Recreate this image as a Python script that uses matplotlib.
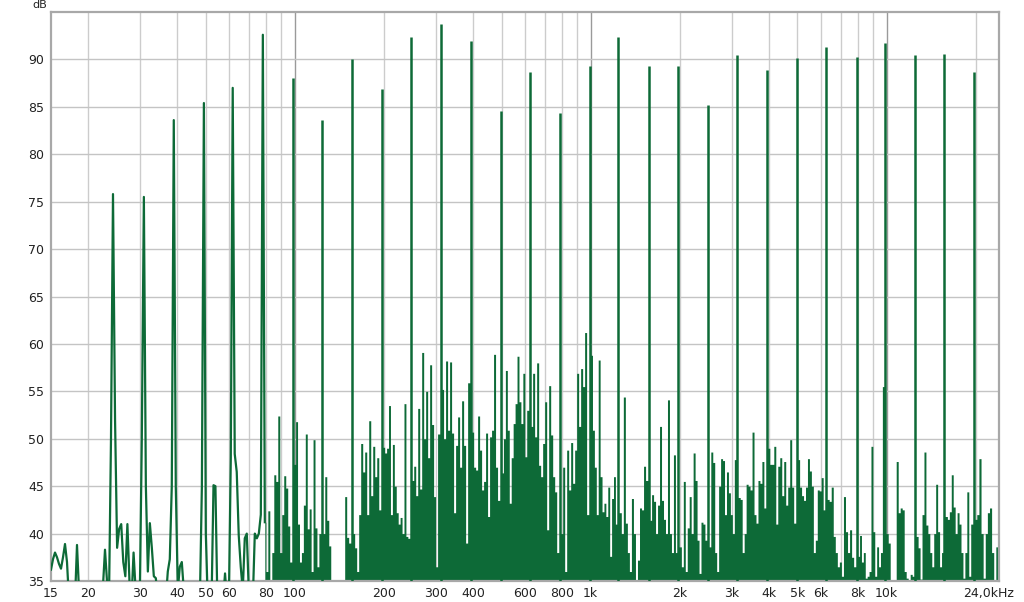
import numpy as np
import matplotlib
matplotlib.use("Agg")
import matplotlib.pyplot as plt
from matplotlib.ticker import NullLocator
from matplotlib.transforms import ScaledTranslation

# ---------------- data ----------------
tones_hz = [24.3, 30.9, 39.0, 49.3, 61.7, 78.0, 98.4, 123.4, 155.7, 196.8,
            246.6, 311.0, 393.0, 496.0, 622.0, 786.0, 992.0, 1240.0, 1570.0, 1980.0,
            2490.0, 3130.0, 3940.0, 4970.0, 6250.0, 7930.0, 9900.0, 12500.0, 15700.0, 19700.0]
tones_db = [75.8, 75.5, 83.6, 85.4, 87.0, 92.6, 88.0, 83.6, 90.0, 86.9,
            92.4, 93.7, 91.9, 84.6, 88.7, 84.4, 89.3, 92.4, 89.3, 89.3,
            85.2, 90.5, 88.9, 90.1, 91.3, 90.3, 91.7, 90.5, 90.6, 88.7]

# noise floor between the tones (dB), one list per band, low to high frequency
noise_00 = [36.2, 37.3, 38.0, 37.5, 36.8, 36.3, 37.5, 38.9, 37.0, 33, 33, 33, 33, 38.8, 34,
            33, 33, 33, 33, 33, 33, 33, 33, 33, 33, 33, 34.5, 38.3, 35, 33, 50]
noise_01 = [52, 38.5, 40.5, 41.0, 37, 35.5, 41.0, 35, 33, 38.0, 34, 33, 33, 50]
noise_02 = [45, 36, 41.1, 38.5, 35.5, 35.3, 33, 33, 33, 33, 33, 36, 37.3, 45]
noise_03 = [45, 34, 36.5, 37.0, 34, 33, 33, 33, 33, 33, 33, 33, 33, 45]
noise_04 = [40, 33, 33, 33, 45.1, 45.0, 33, 33, 33, 33, 35.8, 33, 33, 48]
noise_05 = [48.4, 46.5, 39.8, 36.5, 34, 39.5, 40.0, 34, 33, 33, 40.0, 39.5, 40.0, 42]
noise_06 = [41.2, 36, 42.4, 35, 38, 46.2, 45.5, 52.4, 38, 42, 46.1, 44.8, 40.8, 37]
noise_07 = [47.3, 51.8, 41, 37, 38, 43, 50.5, 40.5, 42.6, 36, 49.9, 40.6, 36.5, 40]
noise_08 = [40, 46.0, 41.4, 38.7, 33, 33, 33, 33, 33, 33, 33, 43.9, 39.6, 39.0]
noise_09 = [40, 38.5, 36, 42, 49.5, 46.5, 48.6, 42, 51.9, 44, 49.2, 46, 48.0, 42.5]
noise_10 = [49.1, 48.5, 49.0, 53.5, 42, 49.4, 45, 42.2, 41.0, 41.7, 40, 53.7, 39.7, 39.5]
noise_11 = [45.6, 47.1, 44, 53.2, 44.7, 59.1, 50, 55.0, 48, 57.8, 51.5, 43.9, 36.5, 50.5]
noise_12 = [55.2, 50, 58.2, 50.9, 58.1, 50.6, 42.2, 49.3, 52.3, 47, 54.0, 49.3, 39, 55.9]
noise_13 = [50.7, 47, 46.7, 52.4, 48.8, 44.6, 45.5, 50.6, 41.8, 50.2, 50.9, 58.9, 47, 43.5]
noise_14 = [46.4, 50, 57.2, 50.9, 43.2, 48, 51.6, 53.7, 58.7, 53.9, 51.6, 56.9, 48.1, 53]
noise_15 = [51.3, 56.9, 50.2, 58.0, 47.2, 46.0, 49.5, 53.9, 40.4, 55.6, 50.4, 46.0, 44.4, 38.0]
noise_16 = [40, 47.0, 36, 48.8, 44.6, 49.6, 45.3, 48.8, 56.9, 51.3, 57.4, 55.5, 61.2, 42]
noise_17 = [58.8, 50.9, 47, 42, 58.3, 46, 42.3, 43.2, 41.8, 44.9, 37.6, 43.7, 46.0, 41]
noise_18 = [42.2, 40, 54.4, 41.1, 38, 36, 43.7, 40, 35, 37.2, 42.7, 42.5, 47.1, 45.6]
noise_19 = [41.4, 44.1, 43.4, 40, 43, 51.3, 43.5, 41.5, 40, 54.1, 40, 38, 48.3, 38]
noise_20 = [38.6, 36.5, 45.5, 36, 40.6, 43.9, 40, 48.5, 45.6, 39.3, 35.8, 41.2, 41, 39.3]
noise_21 = [38.6, 48.6, 47.5, 38, 36, 45, 47.9, 47.7, 42, 46.5, 44.3, 42, 40, 47.8]
noise_22 = [43.8, 43.6, 38, 40, 45.2, 45.0, 44.6, 50.7, 42, 41.1, 45.6, 45.3, 47.6, 42.7]
noise_23 = [49.0, 47.3, 47.3, 49.2, 41, 47.1, 48, 44, 47.6, 43, 44.9, 49.9, 44.9, 41.1]
noise_24 = [47.8, 44.9, 44.0, 43.5, 44.9, 47.9, 46.6, 45.0, 38, 39.3, 44.6, 44.5, 45.9, 42.5]
noise_25 = [43.6, 43.4, 44.9, 39.7, 38, 36.5, 37, 35.5, 43.9, 40.2, 38, 40.4, 37.5, 36.5]
noise_26 = [37.6, 39.8, 37, 38, 35.3, 35.5, 36, 49.2, 40.2, 35.5, 38.6, 36.5, 38, 55.5]
noise_27 = [40.0, 39, 35, 33, 33, 47.6, 42.2, 42.7, 42.5, 36, 35.3, 34.5, 35.7, 35.5]
noise_28 = [39.7, 38.5, 35.2, 42, 48.6, 40.9, 40, 38, 36.5, 40, 45.2, 40.2, 36.5, 38]
noise_29 = [41.8, 41.5, 42.3, 46.2, 42.8, 40, 42.2, 41, 38, 35.3, 38, 44.4, 35.5, 41]
noise_30 = [41.5, 42.0, 47.9, 40, 35.3, 40, 42.2, 42.7, 38, 35, 38.6, 40.8]

noise_bands = [noise_00, noise_01, noise_02, noise_03, noise_04, noise_05, noise_06,
               noise_07, noise_08, noise_09, noise_10, noise_11, noise_12, noise_13,
               noise_14, noise_15, noise_16, noise_17, noise_18, noise_19, noise_20,
               noise_21, noise_22, noise_23, noise_24, noise_25, noise_26, noise_27,
               noise_28, noise_29, noise_30]

F_MIN, F_MAX = 15.0, 24000.0
x_ticks = [15, 20, 30, 40, 50, 60, 80, 100, 200, 300, 400, 600, 800, 1000,
           2000, 3000, 4000, 5000, 6000, 8000, 10000, 24000]
x_tick_labels = ["15", "20", "30", "40", "50", "60", "80", "100", "200", "300", "400",
                 "600", "800", "1k", "2k", "3k", "4k", "5k", "6k", "8k", "10k", "24,0kHz"]
y_ticks = [35, 40, 45, 50, 55, 60, 65, 70, 75, 80, 85, 90]
grid_hz = [20, 30, 40, 50, 60, 70, 80, 90, 100, 200, 300, 400, 500, 600, 700, 800, 900,
           1000, 2000, 3000, 4000, 5000, 6000, 7000, 8000, 9000, 10000, 20000]
decade_hz = [100, 1000, 10000]
DENSE_FROM_HZ = 79.0   # above this the trace is so dense that it renders as a filled area

# ---------------- build the sampled spectrum ----------------
edges = [F_MIN] + tones_hz + [F_MAX]
nf, nd = [], []
last = len(noise_bands) - 1
for k, band in enumerate(noise_bands):
    n = len(band)
    lo, hi = edges[k], edges[k + 1]
    if k == 0:
        pos = np.geomspace(lo, hi, n + 1)[:-1]
    elif k == last:
        pos = np.geomspace(lo, hi, n + 1)[1:]
    else:
        pos = np.geomspace(lo, hi, n + 2)[1:-1]
    nf.extend(pos)
    nd.extend(band)
nf = np.array(nf)
nd = np.array(nd)
tf = np.array(tones_hz)
td = np.array(tones_db)

# low band: a plain line through noise + tones (up to the first dense sample)
first_dense = nf[nf >= DENSE_FROM_HZ][0]
low_f = np.concatenate([nf[nf <= first_dense], tf[tf < DENSE_FROM_HZ]])
low_d = np.concatenate([nd[nf <= first_dense], td[tf < DENSE_FROM_HZ]])
o = np.argsort(low_f)
low_f, low_d = low_f[o], low_d[o]

hi_mask = nf >= DENSE_FROM_HZ
hi_f, hi_d = nf[hi_mask], nd[hi_mask]
ht_mask = tf >= DENSE_FROM_HZ

# ---------------- draw ----------------
GREEN = "#0d6a37"
W, H = 1024, 602
fig = plt.figure(figsize=(W / 100, H / 100), dpi=100)
ax = fig.add_axes([51 / W, 1 - 581 / H, (999 - 51) / W, (581 - 12) / H])
ax.set_xscale("log")
ax.set_xlim(F_MIN, F_MAX)
ax.set_ylim(35, 95)

for g in grid_hz:
    ax.axvline(g, color="#9a9a9a" if g in decade_hz else "#cccccc", lw=1.0, zorder=0)
for yv in y_ticks[1:]:
    ax.axhline(yv, color="#c4c4c4", lw=1.0, zorder=0)

ax.plot(low_f, low_d, color=GREEN, lw=1.6, zorder=3, solid_joinstyle="round")
ax.fill_between(hi_f, 30, hi_d, step="mid", color=GREEN, lw=0, zorder=2)
ax.vlines(tf[ht_mask], 30, td[ht_mask], color=GREEN, lw=1.8, zorder=3)

ax.set_xticks(x_ticks)
ax.set_xticklabels(x_tick_labels)
ax.xaxis.set_minor_locator(NullLocator())
ax.set_yticks(y_ticks)
ax.tick_params(axis="both", length=0, labelsize=9, colors="#222222")
ax.tick_params(axis="x", pad=4)
ax.tick_params(axis="y", pad=5)
# the last frequency label sits a little to the left of the axis end
last_lbl = ax.get_xticklabels()[-1]
last_lbl.set_transform(last_lbl.get_transform() + ScaledTranslation(-10 / 100, 0, fig.dpi_scale_trans))

for s in ax.spines.values():
    s.set_color("#a8a8a8")
    s.set_linewidth(1.6)

fig.text(40 / W, 1 - 5 / H, "dB", ha="center", va="center", fontsize=8, color="#222222")

fig.savefig("out.png", dpi=100)
